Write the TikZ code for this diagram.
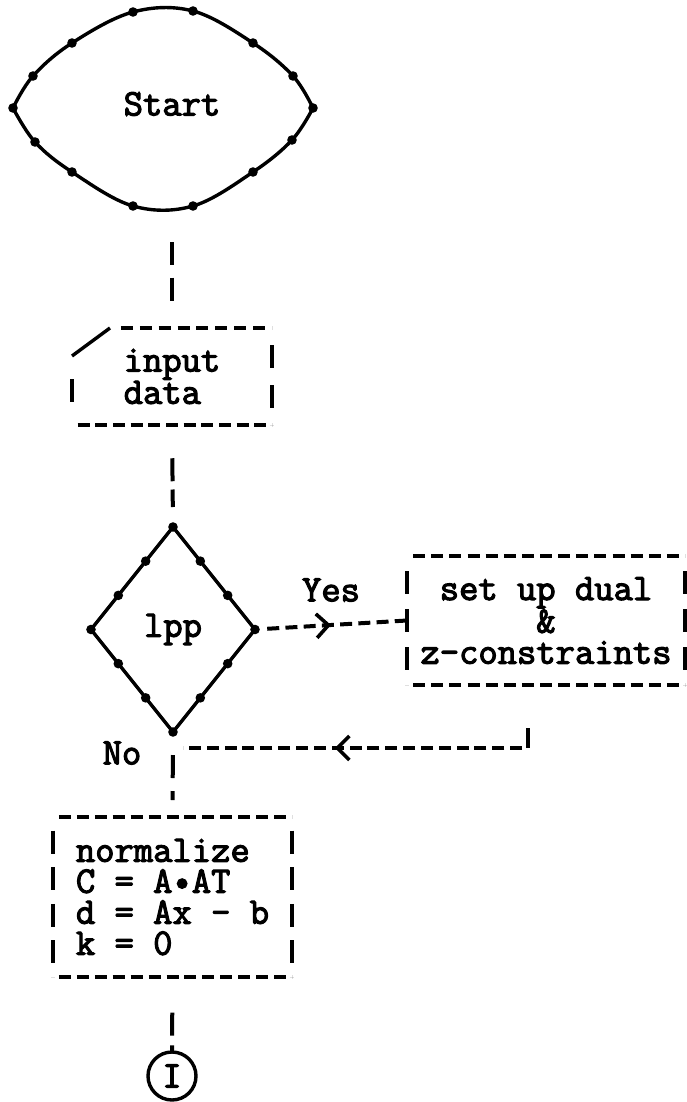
\documentclass[tikz,border=0pt]{standalone}
\usepackage{fontspec}
\newfontfamily\typew{Latin Modern Mono}[FakeBold=3]
\usetikzlibrary{shapes.geometric,arrows.meta,decorations.markings,calc}

% draws the dashed frame round a box node
\newcommand{\dashframe}[1]{%
  \draw[hdash] (#1.north west) -- (#1.north east);
  \draw[hdash] (#1.south west) -- (#1.south east);
  \draw[vdash] (#1.north west) -- (#1.south west);
  \draw[vdash] (#1.north east) -- (#1.south east);}

\begin{document}
\begin{tikzpicture}[x=1pt,y=1pt,
    every node/.style={font=\typew\fontsize{37.5}{31}\selectfont, inner sep=0pt, outer sep=0pt},
    outline/.style={line width=3.4pt, line join=round},
    hdash/.style={line width=4pt, dash pattern=on 12pt off 5.5pt, dash expand off},
    vdash/.style={line width=4pt, dash pattern=on 23pt off 8pt, dash expand off},
    chevron/.style={postaction={decorate},
      decoration={markings, mark=at position #1 with
        {\arrow[line width=3.6pt]{Straight Barb[length=12pt,width=24pt]}}}}]
  \useasboundingbox (0,0) rectangle (687,-1102);

  % start
  \node (start) at (172,-104) {Start};
  \draw[outline] plot[smooth, tension=0.6] coordinates
    {(13,-108) (33,-76) (72,-43) (133,-12) (193,-11) (253,-43) (293,-76) (313,-108)};
  \draw[outline] plot[smooth, tension=0.6] coordinates
    {(313,-108) (292,-140) (253,-172) (193,-206) (133,-206) (72,-172) (35,-142) (13,-108)};
  \foreach \p in {(13,-108),(33,-76),(72,-43),(133,-12),(193,-11),(253,-43),(293,-76),
                  (313,-108),(292,-140),(253,-172),(193,-206),(133,-206),(72,-172),(35,-142)}
    \fill \p circle (4.8);

  % input
  \node[align=left, minimum width=200pt, minimum height=97pt] (input) at (172,-376.5) {input\\data};
  \draw[hdash] (input.south west) -- (input.south east);
  \draw[vdash] (input.north east) -- (input.south east);
  \draw[vdash] ([yshift=-28pt]input.north west) -- (input.south west);
  \draw[outline] ([yshift=-28pt]input.north west) -- ([xshift=38pt]input.north west);
  \draw[hdash] ([xshift=42pt]input.north west) -- (input.north east);

  % decision
  \node[diamond, draw, outline, minimum width=164pt, minimum height=205pt] (lpp) at (173,-629.5) {lpp};
  \foreach \a/\b in {north/east, east/south, south/west, west/north}
    \foreach \t in {0,0.333,0.667}
      \fill ($(lpp.\a)!\t!(lpp.\b)$) circle (4.8);
  \node (yes) at (331,-590) {Yes};
  \node (no) at (122,-753) {No};

  % dual
  \node[align=center, minimum width=278pt, minimum height=129pt] (setup) at (546,-620.5)
    {set up dual\\{\&}\\z-constraints};
  \dashframe{setup}

  % normalize
  \node[align=left, minimum width=239pt, minimum height=160pt] (norm) at (172.5,-897)
    {normalize\\C = A\textbullet AT\\d = Ax - b\\k = 0};
  \dashframe{norm}

  % connector
  \node[circle, draw, outline, minimum size=48pt] (conn) at (172,-1076) {I};

  \coordinate (rcorner) at (528,-748);
  \coordinate (join) at (183,-748);

  \draw[vdash, shorten <=126pt, shorten >=18pt] (start.center) -- (input.north);
  \draw[vdash, shorten <=25pt, shorten >=20pt] (input.south) -- (lpp.north);
  \draw[hdash, chevron=0.5, shorten <=6pt] (lpp.east) -- (setup.west);
  \draw[vdash, shorten <=23pt] (setup.south -| rcorner) -- (rcorner);
  \draw[hdash, chevron=0.56] (rcorner) -- (join);
  \draw[vdash, shorten <=10pt, shorten >=17pt] (lpp.south) -- (norm.north);
  \draw[vdash, shorten <=26pt] (norm.south) -- (conn.north);
\end{tikzpicture}
\end{document}
